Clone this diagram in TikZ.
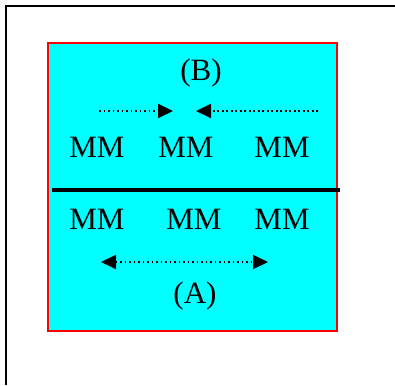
\documentclass[tikz,border=0pt]{standalone}
\usepackage{fontspec}
\setmainfont{Liberation Serif}
\usetikzlibrary{arrows.meta}
\definecolor{cellfill}{RGB}{0,255,255}
\definecolor{cellline}{RGB}{255,0,0}
\begin{document}
\begin{tikzpicture}[x=1pt,y=-1pt,
  lbl/.style={font=\fontsize{31}{34}\selectfont, inner sep=0pt, anchor=center},
  tip/.style={Triangle[length=15pt,width=14pt]},
  dots/.style={line width=1.9pt, dash pattern=on 1.9pt off 2.6pt},
  flow/.style={dots, -{Triangle[length=15pt,width=14pt]}},
  flowboth/.style={dots, {Triangle[length=15pt,width=14pt]}-{Triangle[length=15pt,width=14pt]}}]
  \useasboundingbox (0,0) rectangle (395,385);
  % outer frame
  \draw[line width=2.6pt] (6,385) -- (6,6) -- (395,6);
  % cell
  \draw[draw=cellline, line width=1.6pt, fill=cellfill] (48,43) rectangle (337,331);
  % labels
  \node[lbl] (B) at (201,73) {(B)};
  \node[lbl] (t1) at (97,147) {MM};
  \node[lbl] (t2) at (186,147) {MM};
  \node[lbl] (t3) at (282,147) {MM};
  \node[lbl] (b1) at (97,219) {MM};
  \node[lbl] (b2) at (194,219) {MM};
  \node[lbl] (b3) at (282,219) {MM};
  \node[lbl] (A) at (195,296) {(A)};
  % dividing line
  \coordinate (dl) at (52,190);
  \coordinate (dr) at (340,190);
  \draw[line width=3.4pt] (dl) -- (dr);
  % arrows
  \coordinate (a1s) at (99,111);
  \coordinate (a1e) at (173,111);
  \coordinate (a2s) at (318,111);
  \coordinate (a2e) at (196,111);
  \coordinate (a3s) at (101,262);
  \coordinate (a3e) at (268,262);
  \draw[flow] (a1s) -- (a1e);
  \draw[flow] (a2s) -- (a2e);
  \draw[flowboth] (a3s) -- (a3e);
\end{tikzpicture}
\end{document}
